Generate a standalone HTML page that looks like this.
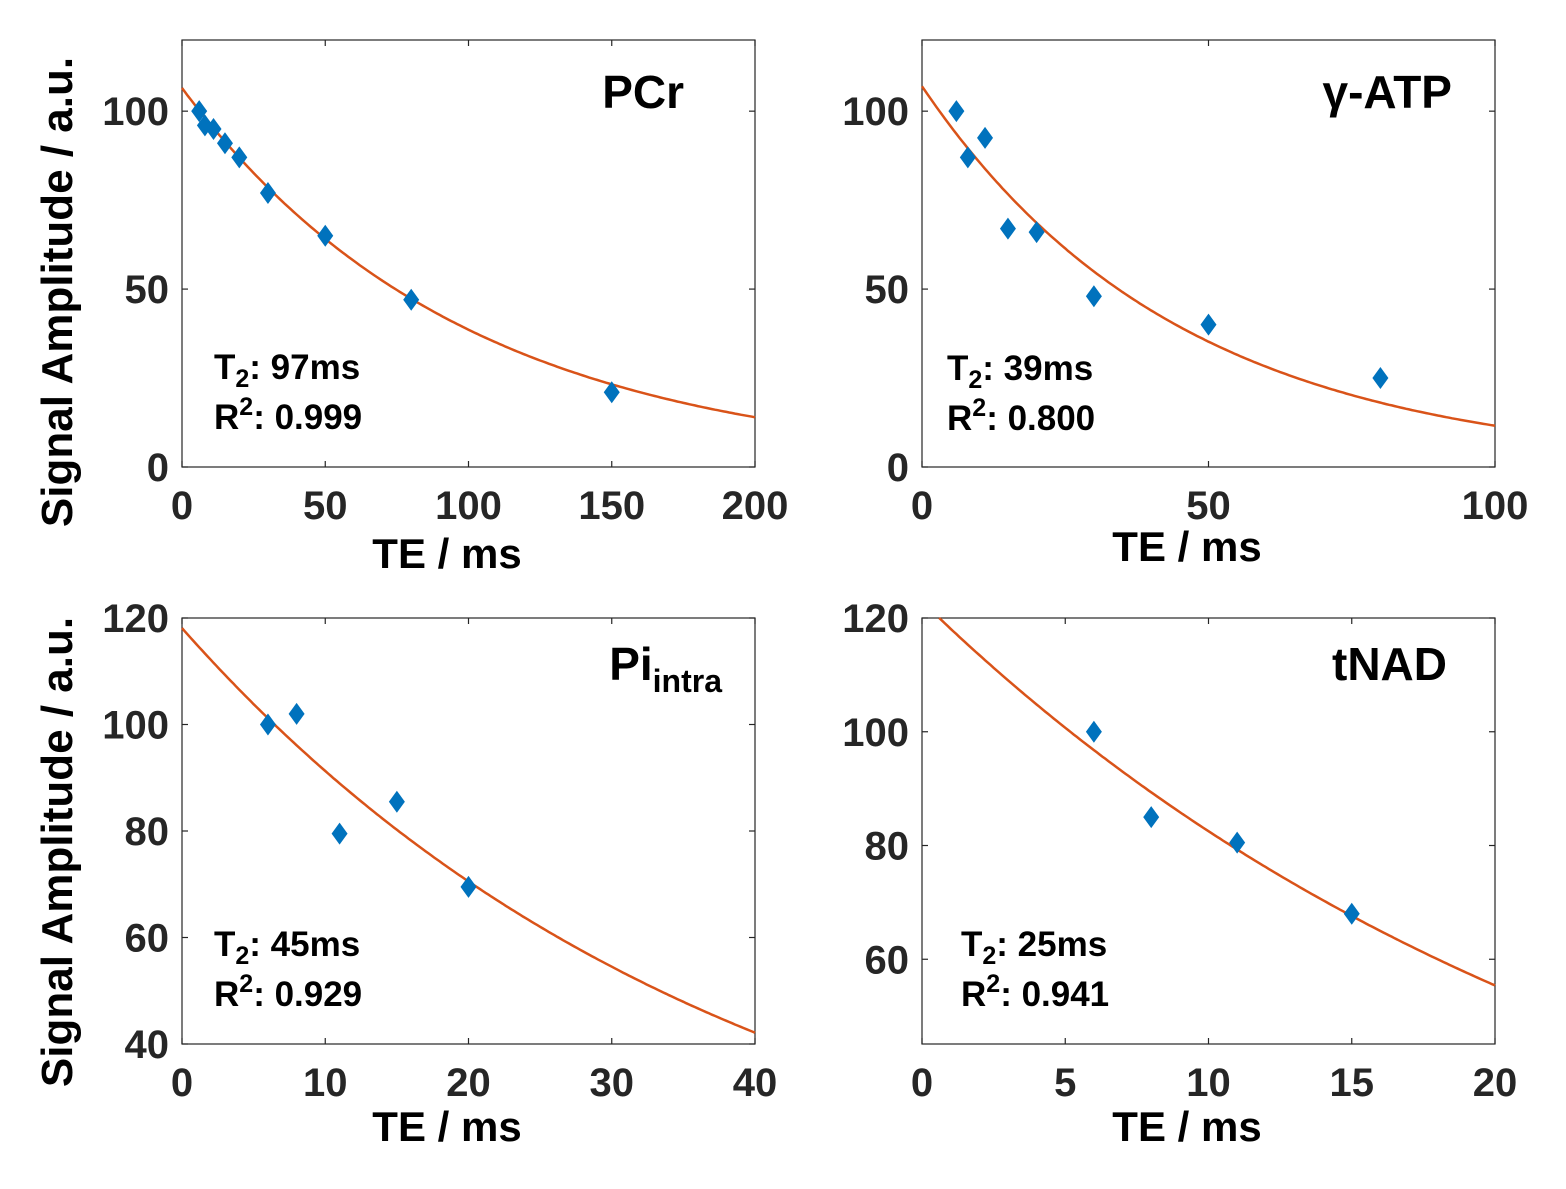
<!DOCTYPE html>
<html><head><meta charset="utf-8"><style>
body{margin:0;background:#fff}
svg text{font-family:"Liberation Sans",sans-serif;font-weight:bold}
</style></head><body>
<svg id="fig" width="1566" height="1184" viewBox="0 0 1566 1184" xmlns="http://www.w3.org/2000/svg"></svg>
<script>
// PCr
const pcrTE=[6,8,11,15,20,30,50,80,150];
const pcrSig=[100,96,95,91,87,77,65,47,21];
const pcrFit=[106.5,98.5];
// gamma-ATP
const atpTE=[6,8,11,15,20,30,50,80];
const atpSig=[100,87,92.5,67,66,48,40,25];
const atpFit=[107,45];
// Pi intra
const piTE=[6,8,11,15,20];
const piSig=[100,102,79.5,85.5,69.5];
const piFit=[118.1,38.8];
// tNAD
const nadTE=[6,8,11,15];
const nadSig=[100,85,80.5,68];
const nadFit=[122.9,25.1];
const xTicks1=[0,50,100,150,200], xTicks2=[0,50,100], xTicks3=[0,10,20,30,40], xTicks4=[0,5,10,15,20];
const yTicks1=[0,50,100], yTicks3=[40,60,80,100,120], yTicks4=[60,80,100,120];

const NS="http://www.w3.org/2000/svg", svg=document.getElementById('fig');
function mk(tag,attrs,parent,txt){const e=document.createElementNS(NS,tag);for(const k in attrs)e.setAttribute(k,attrs[k]);if(txt!==undefined)e.textContent=txt;(parent||svg).appendChild(e);return e;}

function panel(o){
  const g=mk('g',{});
  
  
  const sx=v=>o.x0+(v-o.xr[0])/(o.xr[1]-o.xr[0])*(o.x1-o.x0);
  const sy=v=>o.y1-(v-o.yr[0])/(o.yr[1]-o.yr[0])*(o.y1-o.y0);
  const box=mk('rect',{x:o.x0,y:o.y0,width:o.x1-o.x0,height:o.y1-o.y0,fill:'none',stroke:'#262626','stroke-width':1.2},g);
  
  
  o.xt.forEach(t=>{const x=sx(t);
    mk('line',{x1:x,x2:x,y1:o.y1,y2:o.y1-6,stroke:'#262626','stroke-width':1.2},g);
    mk('line',{x1:x,x2:x,y1:o.y0,y2:o.y0+6,stroke:'#262626','stroke-width':1.2},g);
    const l=mk('text',{x:x,y:o.y1+52,'text-anchor':'middle','font-size':40,fill:'#262626'},g,t);
    
    });
  o.yt.forEach(t=>{const y=sy(t);
    mk('line',{x1:o.x0,x2:o.x0+6,y1:y,y2:y,stroke:'#262626','stroke-width':1.2},g);
    mk('line',{x1:o.x1,x2:o.x1-6,y1:y,y2:y,stroke:'#262626','stroke-width':1.2},g);
    const l=mk('text',{x:o.x0-13,y:y+14,'text-anchor':'end','font-size':40,fill:'#262626'},g,t);
    
    });
  let d='';const n=200;
  for(let i=0;i<=n;i++){const t=o.xr[0]+(o.xr[1]-o.xr[0])*i/n;const v=o.fit[0]*Math.exp(-t/o.fit[1]);
    if(v>o.yr[1])continue;d+=(d?'L':'M')+sx(t).toFixed(1)+' '+sy(v).toFixed(1);}
  const c=mk('path',{d:d,fill:'none',stroke:'#D95319','stroke-width':2.5},g);
  
  
  o.te.forEach((t,i)=>{const x=sx(t),y=sy(o.sig[i]);
    const p=mk('polygon',{points:`${x},${y-11} ${x+8},${y} ${x},${y+11} ${x-8},${y}`,fill:'#0072BD'},g);
    
    });
  const xl=mk('text',{x:o.xlx,y:o.xly,'text-anchor':'middle','font-size':42,fill:'#000'},g,'TE / ms');
  
  
  if(o.ylab){const yl=mk('text',{transform:`translate(${o.ylx},${o.ylc}) rotate(-90)`,'text-anchor':'middle','font-size':44,fill:'#000'},g,'Signal Amplitude / a.u.');
    
    }
  const tt=mk('text',{x:o.tx,y:o.ty,'text-anchor':'end','font-size':46,fill:'#000'},g);
  
  
  tt.innerHTML=o.title;
  const s1=mk('text',{x:o.sx,y:o.sy,'font-size':35,fill:'#000'},g);
  
  
  s1.innerHTML=`T<tspan font-size="25" dy="8">2</tspan><tspan dy="-8">: ${o.t2}</tspan>`;
  const s2=mk('text',{x:o.sx,y:o.sy+50,'font-size':35,fill:'#000'},g);
  
  
  s2.innerHTML=`R<tspan font-size="25" dy="-14">2</tspan><tspan dy="14">: ${o.r2}</tspan>`;
}
panel({name:'pcr',x0:182,x1:755,y0:40,y1:467,xr:[0,200],yr:[0,120],xt:xTicks1,yt:yTicks1,te:pcrTE,sig:pcrSig,fit:pcrFit,xlx:447,xly:568,ylab:true,ylx:72,ylc:292,title:'PCr',tx:684,ty:108,t2:'97ms',r2:'0.999',sx:214,sy:379});
panel({name:'gamma-atp',x0:922,x1:1495,y0:40,y1:467,xr:[0,100],yr:[0,120],xt:xTicks2,yt:yTicks1,te:atpTE,sig:atpSig,fit:atpFit,xlx:1187,xly:561,ylab:false,title:'γ-ATP',tx:1452,ty:108,t2:'39ms',r2:'0.800',sx:947,sy:380});
panel({name:'pi-intra',x0:182,x1:755,y0:618,y1:1044,xr:[0,40],yr:[40,120],xt:xTicks3,yt:yTicks3,te:piTE,sig:piSig,fit:piFit,xlx:447,xly:1141,ylab:true,ylx:72,ylc:852,title:'Pi<tspan font-size="32" dy="12">intra</tspan>',tx:722,ty:680,t2:'45ms',r2:'0.929',sx:214,sy:956});
panel({name:'tnad',x0:922,x1:1495,y0:618,y1:1044,xr:[0,20],yr:[45.1,120],xt:xTicks4,yt:yTicks4,te:nadTE,sig:nadSig,fit:nadFit,xlx:1187,xly:1141,ylab:false,title:'tNAD',tx:1447,ty:680,t2:'25ms',r2:'0.941',sx:961,sy:956});
</script>
</body></html>
